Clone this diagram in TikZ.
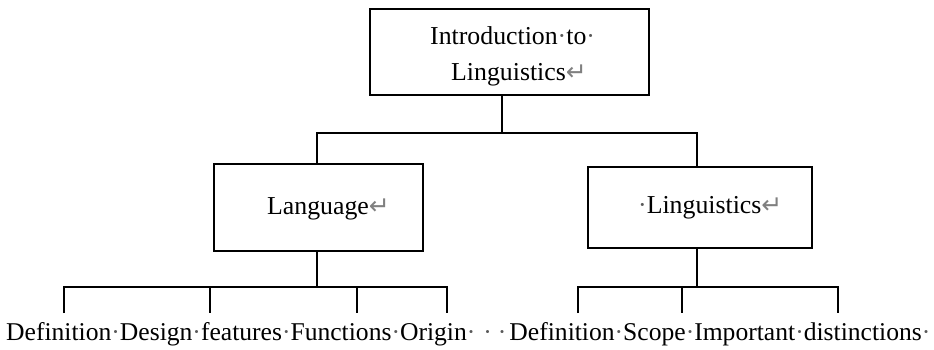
\documentclass[tikz,border=0pt]{standalone}
\usepackage{fontspec}
\setmainfont{Liberation Serif}
\newfontfamily\arrowfont{DejaVu Sans}
\newcommand\pmk{{\color{black!50}\arrowfont\fontsize{25}{25}\selectfont ↵}}
\newcommand\sdt{{\color{black!65}·}}
\begin{document}
\begin{tikzpicture}[x=1pt,y=-1pt,
  box/.style={draw,line width=1.6pt,inner sep=0pt,anchor=north west},
  conn/.style={line width=1.2pt},
  txt/.style={anchor=base west,inner sep=0pt,font=\fontsize{25.8}{30}\selectfont},
  btxt/.style={anchor=base west,inner sep=0pt,font=\fontsize{25.6}{30}\selectfont}]
\useasboundingbox (0,0) rectangle (934,349);
% boxes
\node[box,minimum width=279pt,minimum height=86pt] (top) at (369,8) {};
\node[box,minimum width=209pt,minimum height=87pt] (lang) at (213,163) {};
\node[box,minimum width=224pt,minimum height=81pt] (ling) at (587,166) {};
% texts
\node[txt] (t1) at (430,44) {Introduction\sdt to\sdt};
\node[txt] (t2) at (451,80) {Linguistics\pmk};
\node[txt] (tl) at (267,214) {Language\pmk};
\node[txt] (tr) at (638,213) {\sdt Linguistics\pmk};
\node[btxt] (bottom) at (6,340) {Definition\sdt Design\sdt features\sdt Functions\sdt Origin\sdt\hspace{8pt}\sdt\hspace{6pt}\sdt\hspace{3pt}Definition\sdt Scope\sdt Important\sdt distinctions\sdt};
% upper connectors
\coordinate (j0) at (502,133);
\coordinate (hl) at (317,133);
\coordinate (hr) at (697,133);
\draw[conn] (top.south -| j0) -- (j0);
\draw[conn] (lang.north -| hl) -- (hl) -- (hr) -- (ling.north -| hr);
% left lower
\coordinate (lj) at (317,287);
\coordinate (la) at (64,287);  \coordinate (lae) at (64,313);
\coordinate (lb) at (210,287); \coordinate (lbe) at (210,313);
\coordinate (lc) at (357,287); \coordinate (lce) at (357,313);
\coordinate (ld) at (447,287); \coordinate (lde) at (447,313);
\draw[conn] (lang.south -| lj) -- (lj);
\draw[conn] (lae) -- (la) -- (ld) -- (lde);
\draw[conn] (lb) -- (lbe);
\draw[conn] (lc) -- (lce);
% right lower
\coordinate (rj) at (697,287);
\coordinate (ra) at (578,287); \coordinate (rae) at (578,313);
\coordinate (rb) at (682,287); \coordinate (rbe) at (682,313);
\coordinate (rc) at (838,287); \coordinate (rce) at (838,313);
\draw[conn] (ling.south -| rj) -- (rj);
\draw[conn] (rae) -- (ra) -- (rc) -- (rce);
\draw[conn] (rb) -- (rbe);
\end{tikzpicture}
\end{document}
